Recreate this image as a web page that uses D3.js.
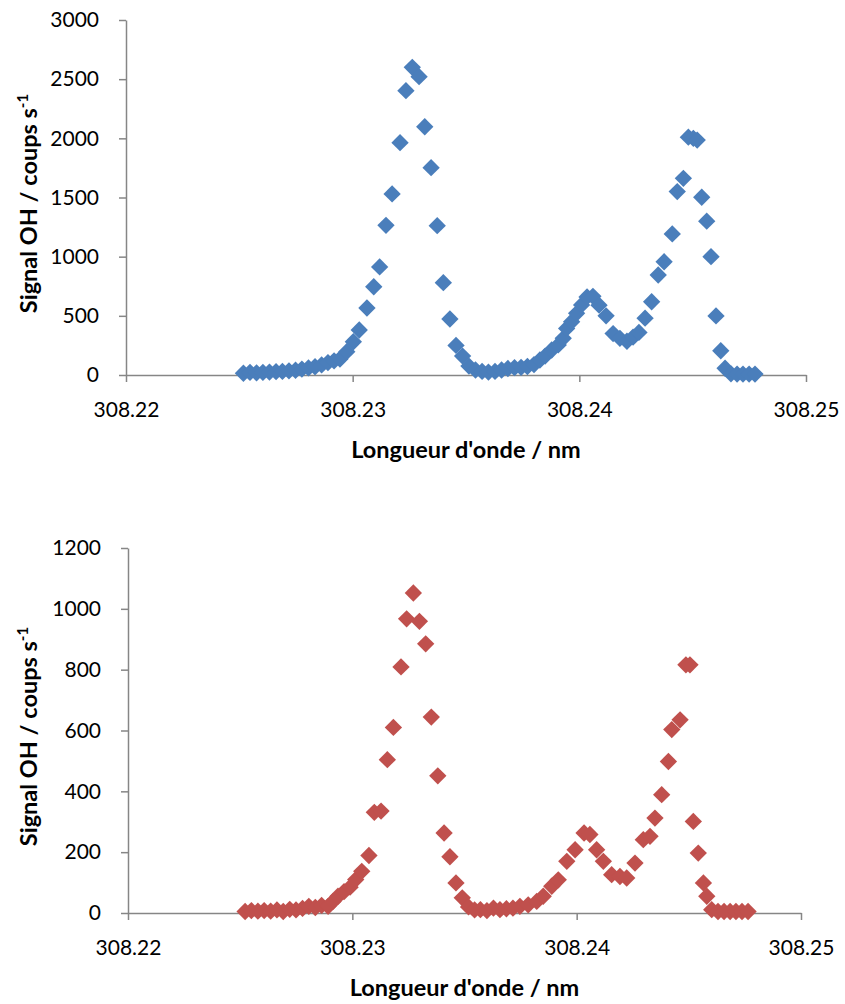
<!DOCTYPE html>
<html>
<head>
<meta charset="utf-8">
<script src="https://cdn.jsdelivr.net/npm/d3@7"></script>
<style>
  html, body { margin: 0; padding: 0; background: #fff; }
  svg { display: block; }
  .tick text { font-family: Lato, "Open Sans", sans-serif; font-size: 21px; fill: #000; }
  .axis-title { font-family: Lato, "Open Sans", sans-serif; font-size: 23.5px; font-weight: bold; fill: #000; }
</style>
</head>
<body>
<script>
// Excitation spectrum of OH: wavelength (nm) and fluorescence signal (counts/s)
const wavelengthsA = [
  308.22518, 308.22547, 308.22576, 308.22604, 308.22633, 308.22662, 308.22690, 308.22719,
  308.22748, 308.22776, 308.22805, 308.22834, 308.22863, 308.22891, 308.22918, 308.22944,
  308.22974, 308.23003, 308.23029, 308.23063, 308.23093, 308.23119, 308.23147, 308.23174,
  308.23209, 308.23235, 308.23263, 308.23293, 308.23318, 308.23346, 308.23373, 308.23400,
  308.23429, 308.23456, 308.23485, 308.23513, 308.23542, 308.23571, 308.23599, 308.23628,
  308.23657, 308.23685, 308.23714, 308.23743, 308.23771, 308.23800, 308.23826, 308.23849,
  308.23878, 308.23907, 308.23929, 308.23944, 308.23966, 308.23988, 308.24010, 308.24034,
  308.24060, 308.24087, 308.24118, 308.24149, 308.24179, 308.24210, 308.24237, 308.24263,
  308.24290, 308.24319, 308.24348, 308.24374, 308.24410, 308.24432, 308.24459, 308.24481,
  308.24503, 308.24520, 308.24540, 308.24562, 308.24581, 308.24603, 308.24624, 308.24643,
  308.24669, 308.24696, 308.24722, 308.24749, 308.24775
];
const signalA = [
  15, 22, 18, 22, 25, 28, 30, 35,
  40, 50, 60, 70, 85, 105, 120, 135,
  197, 281, 380, 566, 746, 913, 1265, 1530,
  1963, 2403, 2600, 2521, 2098, 1752, 1262, 780,
  473, 250, 160, 75, 42, 30, 25, 30,
  42, 55, 62, 65, 72, 88, 127, 160,
  211, 254, 310, 394, 450, 521, 592, 660,
  665, 590, 500, 350, 310, 285, 320, 360,
  480, 619, 845, 957, 1192, 1550, 1662, 2010,
  2000, 1985, 1502, 1300, 1000, 499, 205, 57,
  10, 8, 8, 8, 8
];

const wavelengthsB = [
  308.22522, 308.22550, 308.22579, 308.22607, 308.22636, 308.22664, 308.22692, 308.22721,
  308.22749, 308.22778, 308.22806, 308.22835, 308.22863, 308.22892, 308.22914, 308.22936,
  308.22963, 308.22990, 308.23015, 308.23042, 308.23074, 308.23098, 308.23128, 308.23156,
  308.23183, 308.23217, 308.23242, 308.23272, 308.23299, 308.23327, 308.23352, 308.23381,
  308.23409, 308.23435, 308.23462, 308.23490, 308.23518, 308.23545, 308.23571, 308.23600,
  308.23629, 308.23658, 308.23687, 308.23716, 308.23747, 308.23784, 308.23822, 308.23851,
  308.23889, 308.23918, 308.23956, 308.23993, 308.24033, 308.24059, 308.24089, 308.24119,
  308.24156, 308.24193, 308.24223, 308.24260, 308.24297, 308.24327, 308.24349, 308.24379,
  308.24409, 308.24424, 308.24461, 308.24487, 308.24505, 308.24520, 308.24542, 308.24565,
  308.24580, 308.24602, 308.24630, 308.24657, 308.24684, 308.24710, 308.24737, 308.24764
];
const signalB = [
  5, 8, 6, 8, 6, 10, 5, 12,
  10, 15, 22, 18, 25, 22, 38, 55,
  70, 85, 110, 137, 189, 331, 335, 504,
  610, 809, 967, 1052, 959, 885, 644, 451,
  263, 185, 99, 50, 20, 10, 11, 8,
  16, 11, 14, 16, 22, 27, 38, 55,
  88, 109, 170, 208, 263, 258, 208, 170,
  126, 120, 115, 164, 241, 252, 312, 389,
  498, 603, 635, 816, 816, 301, 197, 99,
  55, 11, 5, 5, 5, 5, 5, 5
];

const xTicks = [308.22, 308.23, 308.24, 308.25];
const yTicksA = [0, 500, 1000, 1500, 2000, 2500, 3000];
const yTicksB = [0, 200, 400, 600, 800, 1000, 1200];

const xTitle = "Longueur d'onde / nm";

const W = 845, H = 1004;
const svg = d3.select("body").append("svg")
  .attr("width", W).attr("height", H);

const diamond = d3.symbol().type(d3.symbolSquare).size(150);

function drawPanel(opts) {
  const { left, right, top, bottom, xs, ys, yTicks, color, yMax } = opts;
  const x = d3.scaleLinear().domain([308.22, 308.25]).range([left, right]);
  const y = d3.scaleLinear().domain([0, yMax]).range([bottom, top]);
  const g = svg.append("g");

  const xAxis = g.append("g")
    .attr("transform", `translate(0,${bottom})`)
    .call(d3.axisBottom(x).tickValues(xTicks).tickFormat(d3.format(".2f"))
      .tickSizeInner(7).tickSizeOuter(0).tickPadding(20));

  const yAxis = g.append("g")
    .attr("transform", `translate(${left},0)`)
    .call(d3.axisLeft(y).tickValues(yTicks).tickFormat(d3.format("d"))
      .tickSizeInner(7).tickSizeOuter(0).tickPadding(20));

  [xAxis, yAxis].forEach(a => {
    a.select(".domain").attr("stroke", "#868686").attr("stroke-width", 1.5);
    a.selectAll(".tick line").attr("stroke", "#868686").attr("stroke-width", 1.5);
  });

  g.append("g").selectAll("path")
    .data(d3.zip(xs, ys))
    .join("path")
    .attr("d", diamond)
    .attr("transform", d => `translate(${x(d[0])},${y(d[1])}) rotate(45)`)
    .attr("fill", color);

  g.append("text")
    .attr("class", "axis-title")
    .attr("x", (left + right) / 2)
    .attr("y", bottom + 83)
    .attr("text-anchor", "middle")
    .text(xTitle);

  const yt = g.append("text")
    .attr("class", "axis-title")
    .attr("transform", `translate(37,${(top + bottom) / 2 + 6}) rotate(-90)`)
    .attr("text-anchor", "middle");
  yt.append("tspan").text("Signal OH / coups s");
  yt.append("tspan").attr("dy", -9).attr("font-size", 15).text("-1");
}

drawPanel({
  left: 126, right: 806, top: 20, bottom: 375,
  xs: wavelengthsA, ys: signalA, yTicks: yTicksA, yMax: 3000, color: "#4A7EBB"
});

drawPanel({
  left: 128, right: 801, top: 548, bottom: 913,
  xs: wavelengthsB, ys: signalB, yTicks: yTicksB, yMax: 1200, color: "#C0504D"
});
</script>
</body>
</html>
